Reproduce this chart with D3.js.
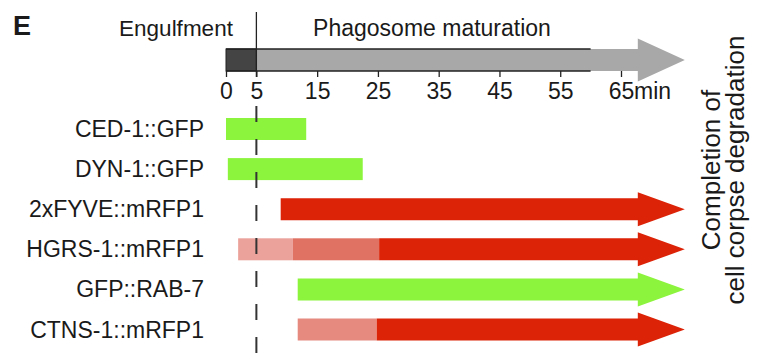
<!DOCTYPE html>
<html>
<head>
<meta charset="utf-8">
<script src="https://cdn.jsdelivr.net/npm/d3@7"></script>
<style>
  body { margin: 0; background: #fff; }
  svg text { font-family: "Liberation Sans", Arial, sans-serif; fill: #1a1a1a; }
</style>
</head>
<body>
<div id="chart"></div>
<script>
// data (minutes)
var rows = ["CED-1::GFP", "DYN-1::GFP", "2xFYVE::mRFP1", "HGRS-1::mRFP1", "GFP::RAB-7", "CTNS-1::mRFP1"];
var barStart = [0, 0.3, 9, 2, 11.8, 11.8];
var barStop = [13.2, 22.5, null, null, null, null];   // null = runs on to completion
var colorShifts = [[], [], [], [11, 25.2], [], [24.8]];
var tones = [["green"], ["green"], ["red"], ["pale", "salmon", "red"], ["green"], ["rose", "red"]];

var tickValues = [0, 5, 15, 25, 35, 45, 55, 65];
var phaseNames = ["Engulfment", "Phagosome maturation"];
var phaseBreaks = [0, 5, 60];
var completionTip = 75.5;

var toneColor = {
  green: "#8cf43c",
  red: "#dc2207",
  pale: "#eba29b",
  salmon: "#e07263",
  rose: "#e68a80"
};

// chart setup
var svgWidth = 761;
var svgHeight = 355;
var headLen = 47;

var svg = d3.select("#chart")
  .append("svg")
  .attr("width", svgWidth)
  .attr("height", svgHeight);

var x = d3.scaleLinear()
  .domain([0, 65])
  .range([226, 621]);

var y = d3.scalePoint()
  .domain(rows)
  .range([129, 329.5]);

// arrow shape: body from x0 to tip, head of headLen px
function arrowPath(x0, tip, cy, halfBody, halfHead) {
  var xb = tip - headLen;
  return "M" + x0 + "," + (cy - halfBody) +
    "L" + xb + "," + (cy - halfBody) +
    "L" + xb + "," + (cy - halfHead) +
    "L" + tip + "," + cy +
    "L" + xb + "," + (cy + halfHead) +
    "L" + xb + "," + (cy + halfBody) +
    "L" + x0 + "," + (cy + halfBody) + "Z";
}

// panel letter
svg.append("text")
  .attr("x", 13)
  .attr("y", 35)
  .style("font-size", "27px")
  .style("font-weight", "bold")
  .text("E");

// top timeline
var topY = 60;
svg.append("path")
  .attr("d", arrowPath(x(phaseBreaks[1]), x(completionTip), topY, 11, 21.5))
  .attr("fill", "#a8a8a8");

svg.append("rect")
  .attr("x", x(phaseBreaks[0]))
  .attr("y", topY - 11)
  .attr("width", x(phaseBreaks[1]) - x(phaseBreaks[0]))
  .attr("height", 22)
  .attr("fill", "#444")
  .attr("stroke", "#222")
  .attr("stroke-width", 1);

[topY - 11, topY + 11].forEach(function(ly) {
  svg.append("line")
    .attr("x1", x(phaseBreaks[0]))
    .attr("x2", x(phaseBreaks[2]))
    .attr("y1", ly)
    .attr("y2", ly)
    .attr("stroke", "#222")
    .attr("stroke-width", 1.3);
});

// phase labels
svg.append("text")
  .attr("x", 176)
  .attr("y", 36)
  .attr("text-anchor", "middle")
  .style("font-size", "22.5px")
  .text(phaseNames[0]);

svg.append("text")
  .attr("x", 432)
  .attr("y", 36)
  .attr("text-anchor", "middle")
  .style("font-size", "23px")
  .text(phaseNames[1]);

// minute axis
var axis = d3.axisBottom(x)
  .tickValues(tickValues)
  .tickSize(6)
  .tickPadding(6)
  .tickFormat(d3.format("d"));

var axisG = svg.append("g")
  .attr("transform", "translate(0," + (topY + 11) + ")")
  .call(axis);

axisG.select(".domain").remove();
axisG.selectAll(".tick line").attr("stroke", "#222").attr("stroke-width", 1.3);
axisG.selectAll(".tick text")
  .style("font-size", "23px")
  .style("font-family", "'Liberation Sans', Arial, sans-serif")
  .attr("fill", "#1a1a1a");

svg.append("text")
  .attr("x", x(65) + 13)
  .attr("y", 99)
  .style("font-size", "23px")
  .text("min");

// row bars
rows.forEach(function(name, i) {
  var cy = y(name);
  var cuts = [barStart[i]].concat(colorShifts[i]);
  tones[i].forEach(function(tone, k) {
    var s = cuts[k];
    var last = k === tones[i].length - 1;
    if (last && barStop[i] === null) {
      svg.append("path")
        .attr("d", arrowPath(x(s), x(completionTip), cy, 11, 17))
        .attr("fill", toneColor[tone]);
    } else {
      var e = last ? barStop[i] : cuts[k + 1];
      svg.append("rect")
        .attr("x", x(s))
        .attr("y", cy - 11)
        .attr("width", x(e) - x(s))
        .attr("height", 22)
        .attr("fill", toneColor[tone]);
    }
  });

  svg.append("text")
    .attr("x", 204)
    .attr("y", cy + 8)
    .attr("text-anchor", "end")
    .style("font-size", "23px")
    .text(name);
});

// 5 min boundary line
svg.append("line")
  .attr("x1", x(5)).attr("x2", x(5))
  .attr("y1", 12).attr("y2", 77)
  .attr("stroke", "#222")
  .attr("stroke-width", 1.3);

svg.append("line")
  .attr("x1", x(5)).attr("x2", x(5))
  .attr("y1", 106).attr("y2", 353)
  .attr("stroke", "#333")
  .attr("stroke-width", 2)
  .attr("stroke-dasharray", "16,17");

// completion label, rotated
var endLabel = ["Completion of", "cell corpse degradation"];
endLabel.forEach(function(line, k) {
  svg.append("text")
    .attr("transform", "translate(" + (720 + k * 24) + ",170) rotate(-90)")
    .attr("text-anchor", "middle")
    .style("font-size", "26px")
    .text(line);
});
</script>
</body>
</html>
